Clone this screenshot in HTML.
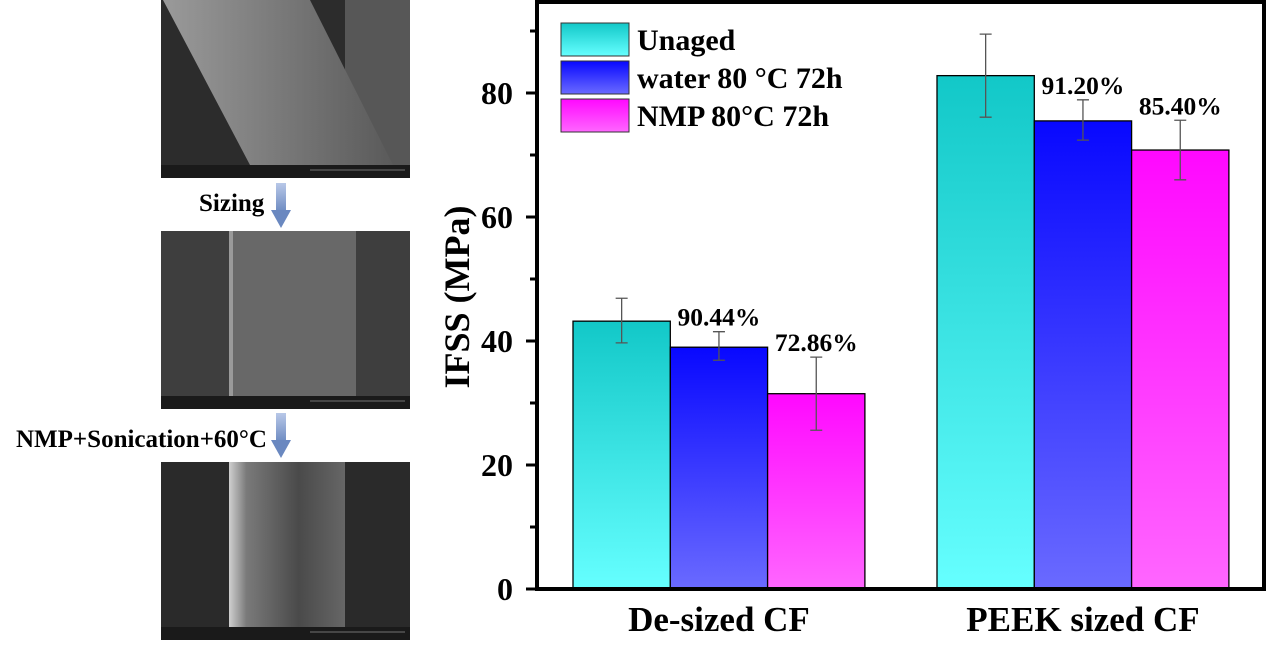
<!DOCTYPE html>
<html><head><meta charset="utf-8"><style>
body{margin:0;background:#fff;width:1267px;height:640px;overflow:hidden;font-family:"Liberation Serif",serif}
svg text{font-family:"Liberation Serif",serif;font-weight:bold}
</style></head><body>
<svg id="fig" width="1267" height="640" viewBox="0 0 1267 640">
<defs>
<linearGradient id="gc" x1="0" y1="0" x2="0" y2="1"><stop offset="0" stop-color="#12c8c8"/><stop offset="1" stop-color="#66ffff"/></linearGradient>
<linearGradient id="gb" x1="0" y1="0" x2="0" y2="1"><stop offset="0" stop-color="#0808ff"/><stop offset="1" stop-color="#6a6aff"/></linearGradient>
<linearGradient id="gm" x1="0" y1="0" x2="0" y2="1"><stop offset="0" stop-color="#ff08ff"/><stop offset="1" stop-color="#ff66ff"/></linearGradient>
<linearGradient id="ga" x1="0" y1="0" x2="0" y2="1"><stop offset="0" stop-color="#b8c8e8"/><stop offset="1" stop-color="#6a88c0"/></linearGradient>
<linearGradient id="f1" x1="0" y1="0" x2="1" y2="0"><stop offset="0" stop-color="#9a9a9a"/><stop offset="0.5" stop-color="#7a7a7a"/><stop offset="1" stop-color="#5a5a5a"/></linearGradient>
<linearGradient id="f3" x1="0" y1="0" x2="1" y2="0"><stop offset="0" stop-color="#cfcfcf"/><stop offset="0.15" stop-color="#7a7a7a"/><stop offset="0.6" stop-color="#4a4a4a"/><stop offset="1" stop-color="#666"/></linearGradient>
</defs>

<g>
<rect x="161" y="0" width="249" height="178" fill="#2c2c2c"/>
<rect x="345" y="0" width="65" height="165" fill="#6a6a6a" opacity="0.7"/>
<polygon points="163,0 310,0 393,165 250,165" fill="url(#f1)"/>
<rect x="161" y="165" width="249" height="13" fill="#1a1a1a"/>
<line x1="310" y1="170" x2="405" y2="170" stroke="#ccc" stroke-width="0.6"/>
</g>
<g>
<rect x="161" y="231" width="249" height="178" fill="#3e3e3e"/>
<rect x="229" y="231" width="127" height="165" fill="#686868"/>
<rect x="229" y="231" width="4" height="165" fill="#9a9a9a"/>
<rect x="161" y="396" width="249" height="13" fill="#1a1a1a"/>
<line x1="310" y1="401" x2="405" y2="401" stroke="#ccc" stroke-width="0.6"/>
</g>
<g>
<rect x="161" y="462" width="249" height="178" fill="#2a2a2a"/>
<rect x="229" y="462" width="116" height="165" fill="url(#f3)"/>
<rect x="161" y="627" width="249" height="13" fill="#1a1a1a"/>
<line x1="310" y1="632" x2="405" y2="632" stroke="#ccc" stroke-width="0.6"/>
</g>
<g>
<rect x="276" y="183" width="10" height="30" fill="url(#ga)"/>
<polygon points="271,210 291,210 281,228" fill="#6a88c0"/>
</g>
<g>
<rect x="276" y="413" width="10" height="30" fill="url(#ga)"/>
<polygon points="271,440 291,440 281,458" fill="#6a88c0"/>
</g>
<text x="199" y="211" font-size="25">Sizing</text>
<text x="16" y="447" font-size="25">NMP+Sonication+60°C</text>

<g id="chart"></g>
</svg>
<script>
const categories = ["De-sized CF", "PEEK sized CF"];
const seriesNames = ["Unaged", "water 80 °C 72h", "NMP 80°C 72h"];
const unaged = [43.2, 82.8];
const water = [39.0, 75.5];
const nmp = [31.5, 70.8];
const errLow = [[39.7, 76.1], [36.9, 72.4], [25.6, 66.0]];
const errHigh = [[46.9, 89.5], [41.5, 78.9], [37.4, 75.6]];
const pctLabels = [[null, null], ["90.44%", "91.20%"], ["72.86%", "85.40%"]];
const yTicks = [0, 20, 40, 60, 80];

const NS = "http://www.w3.org/2000/svg";
const g = document.getElementById("chart");
const X0 = 537, X1 = 1264, Y0 = 589, PXU = 6.2;
const y = v => Y0 - v * PXU;
const groupStart = [573, 937];
const barW = 97.3;
const fills = ["url(#gc)", "url(#gb)", "url(#gm)"];
const series = [unaged, water, nmp];
function el(tag, attrs, parent) { const e = document.createElementNS(NS, tag); for (const k in attrs) e.setAttribute(k, attrs[k]); (parent || g).appendChild(e); return e; }

series.forEach((s, si) => {
  s.forEach((v, ci) => {
    const x = groupStart[ci] + si * barW;
    const r = el("rect", { x: x, y: y(v), width: barW, height: Y0 - y(v), fill: fills[si], stroke: "#000", "stroke-width": 1.3 });
    
    
    const cx = x + barW / 2;
    const eb = el("path", { d: `M${cx},${y(errHigh[si][ci])}V${y(errLow[si][ci])}M${cx-6},${y(errHigh[si][ci])}H${cx+6}M${cx-6},${y(errLow[si][ci])}H${cx+6}`, stroke: "#555", "stroke-width": 1.3, fill: "none" });
    
    
    const p = pctLabels[si][ci];
    if (p) {
      const t = el("text", { x: cx, y: y(errHigh[si][ci]) - 6, "font-size": 25.5, "text-anchor": "middle" });
      t.textContent = p;
      
      
    }
  });
});
const fr = el("path", { d: `M${X0},2H${X1}V${Y0}H${X0}Z`, fill: "none", stroke: "#000", "stroke-width": 4 });


for (let v = 0; v <= 90; v += 10) {
  const major = v % 20 === 0;
  const tk = el("line", { x1: X0 - (major ? 11 : 7), x2: X0, y1: y(v), y2: y(v), stroke: "#000", "stroke-width": 3 });
  
  
}
yTicks.forEach(v => {
  const t = el("text", { x: X0 - 24, y: y(v) + 11, "font-size": 32, "text-anchor": "end" });
  t.textContent = v;
  
  
});
const yt = el("text", { x: 0, y: 0, "font-size": 36, "text-anchor": "middle", transform: "translate(469,297) rotate(-90)" });
yt.textContent = "IFSS (MPa)";


categories.forEach((c, ci) => {
  const t = el("text", { x: groupStart[ci] + barW * 1.5, y: 631, "font-size": 35, "text-anchor": "middle" });
  t.textContent = c;
  
  
});
seriesNames.forEach((n, i) => {
  const ly = 23 + i * 38;
  const r = el("rect", { x: 561, y: ly, width: 68, height: 33, fill: fills[i], stroke: "#333", "stroke-width": 1 });
  
  
  const t = el("text", { x: 637, y: ly + 27, "font-size": 30 });
  t.textContent = n;
  
  
});
</script>
</body></html>
